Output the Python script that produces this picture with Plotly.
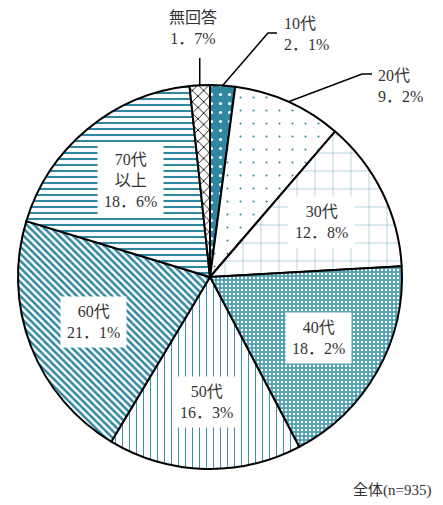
import math
import plotly.graph_objects as go

# ---- data ----
categories = ["10代", "20代", "30代", "40代", "50代", "60代", "70代以上", "無回答"]
label_texts = ["10代", "20代", "30代", "40代", "50代", "60代", "70代<br>以上", "無回答"]
values = [2.1, 9.2, 12.8, 18.2, 16.3, 21.1, 18.6, 1.7]
footnote = "全体(n=935)"

# ---- styling ----
W, H = 443, 505
CX, CY, R = 210, 277, 192
TEAL = "#2f87a0"
FONT = "Liberation Serif, Noto Sans CJK JP, serif"

shapes_pat = [".", ".", "+", ".", "|", "\\", "-", "x"]
fg = ["white", TEAL, "#5aa5b7", "white", "#3b8fa6", TEAL, TEAL, "black"]
bg = [TEAL, "white", "white", "#4f9fb3", "white", "white", "white", "white"]
sizes = [9, 13, 18, 4, 7, 5, 6, 8]
solid = [0.1, 0.02, 0.05, 0.3, 0.15, 0.5, 0.35, 0.2]

def px2paper(x, y):
    return x / W, 1 - y / H

fig = go.Figure(go.Pie(
    labels=categories,
    values=values,
    sort=False,
    direction="clockwise",
    rotation=0,
    textinfo="none",
    hoverinfo="label+percent",
    marker=dict(
        colors=bg,
        line=dict(color="black", width=2),
        pattern=dict(shape=shapes_pat, fgcolor=fg, bgcolor=bg,
                     size=sizes, solidity=solid, fillmode="replace"),
    ),
    domain=dict(x=[(CX - R) / W, (CX + R) / W], y=[1 - (CY + R) / H, 1 - (CY - R) / H]),
    showlegend=False,
))

total = sum(values)
cum = 0
mids = []
for v in values:
    mids.append((cum + v / 2) / total * 2 * math.pi)
    cum += v

annotations = []
shapes = []

def pct(v):
    return f"{v:.1f}".replace(".", "．") + "%"

for i, (lab, v, th) in enumerate(zip(label_texts, values, mids)):
    if i in (0, 1, 7):
        continue
    px = CX + 0.65 * R * math.sin(th)
    py = CY - 0.65 * R * math.cos(th)
    x, y = px2paper(px, py)
    annotations.append(dict(
        x=x, y=y, xref="paper", yref="paper", showarrow=False,
        xanchor="center", yanchor="middle",
        text=f"{lab}<br>{pct(v)}", font=dict(family=FONT, size=16, color="#333333"),
        bgcolor="white", borderpad=6, align="center",
    ))

def edge(th, rr=1.0):
    return CX + rr * R * math.sin(th), CY - rr * R * math.cos(th)

ex, ey = edge(mids[0])
ex2, ey2 = edge(mids[1])
ex3, ey3 = edge(mids[7])

lines = [
    [(ex, ey), (268, 33), (277, 33)],
    [(ex2, ey2), (362, 74), (372, 74)],
    [(ex3, ey3), (ex3, 58)],
]
for pts in lines:
    path = "M " + " L ".join(f"{p[0]/W:.5f},{1-p[1]/H:.5f}" for p in pts)
    shapes.append(dict(type="path", xref="paper", yref="paper", path=path,
                       line=dict(color="black", width=1.5)))

outside_pos = {0: (282, 34), 1: (376, 86), 7: (193, 28)}
for i, (xl, yl) in outside_pos.items():
    x, y = px2paper(xl, yl)
    annotations.append(dict(
        x=x, y=y, xref="paper", yref="paper", showarrow=False,
        xanchor="left" if i != 7 else "center", yanchor="middle",
        text=f"{label_texts[i]}<br>{pct(values[i])}",
        font=dict(family=FONT, size=16, color="#333333"),
        align="left" if i != 7 else "center",
    ))

x, y = px2paper(433, 490)
annotations.append(dict(x=x, y=y, xref="paper", yref="paper", showarrow=False,
                        xanchor="right", yanchor="middle", text=footnote,
                        font=dict(family=FONT, size=15, color="#333333")))

fig.update_layout(
    width=W, height=H,
    margin=dict(l=0, r=0, t=0, b=0),
    paper_bgcolor="white", plot_bgcolor="white",
    annotations=annotations, shapes=shapes,
)

fig.write_html("out.html", config={"displayModeBar": False},
               post_script="document.body.style.margin='0px';")
